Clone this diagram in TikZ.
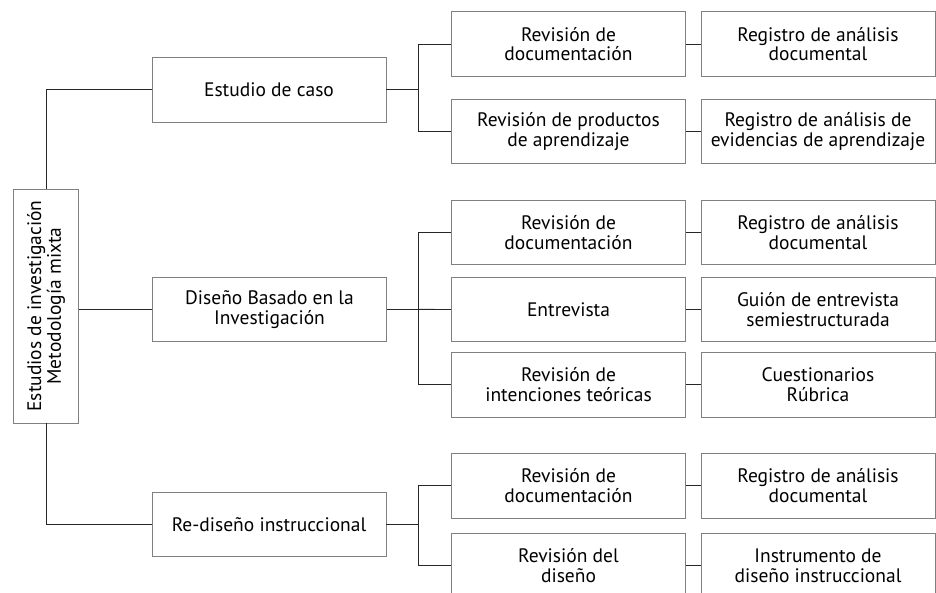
\documentclass[tikz,border=0pt]{standalone}
\usepackage{fontspec}
\setmainfont{PT Sans}
\begin{document}
\begin{tikzpicture}[x=1pt,y=-1pt,
  box/.style={draw=black!50, line width=0.9pt, minimum width=234pt, minimum height=64.5pt,
    align=center, inner sep=0pt, font=\fontsize{19.5}{19.6}\selectfont},
  conn/.style={draw=black!85, line width=0.9pt}]
\useasboundingbox (0,0) rectangle (936,593);
% root
\node[box, minimum width=234pt, minimum height=65pt, rotate=90] (root) at (46,306)
  {Estudios de investigación\\Metodología mixta};
% level 1
\node[box] (est) at (269,89.8) {Estudio de caso};
\node[box] (dis) at (269.5,309.4) {Diseño Basado en la\\Investigación};
\node[box] (red) at (269,524.3) {Re-diseño instruccional};
% level 2
\node[box] (a1) at (568.5,44) {Revisión de\\documentación};
\node[box] (a2) at (568.5,131.5) {Revisión de productos\\de aprendizaje};
\node[box] (a3) at (568.5,232.5) {Revisión de\\documentación};
\node[box] (a4) at (568.5,309.5) {Entrevista};
\node[box] (a5) at (568.5,384.7) {Revisión de\\intenciones teóricas};
\node[box] (a6) at (568.5,485.8) {Revisión de\\documentación};
\node[box] (a7) at (568.5,565.7) {Revisión del\\diseño};
% level 3
\node[box] (b1) at (818,44) {Registro de análisis\\documental};
\node[box] (b2) at (818,131.5) {Registro de análisis de\\evidencias de aprendizaje};
\node[box] (b3) at (818,232.5) {Registro de análisis\\documental};
\node[box] (b4) at (818,309.5) {Guión de entrevista\\semiestructurada};
\node[box] (b5) at (818,384.7) {Cuestionarios\\Rúbrica};
\node[box] (b6) at (818,485.8) {Registro de análisis\\documental};
\node[box] (b7) at (818,565.7) {Instrumento de\\diseño instruccional};
% junctions
\coordinate (j1) at (418,89.8);
\coordinate (j2) at (418,309.4);
\coordinate (j3) at (418,524.3);
% root connectors
\draw[conn] (root.east) |- (est.west);
\draw[conn] (root.south |- dis.west) -- (dis.west);
\draw[conn] (root.west) |- (red.west);
% level1 -> level2
\draw[conn] (est.east) -- (j1);
\draw[conn] (a1.west) -| (j1);
\draw[conn] (a2.west) -| (j1);
\draw[conn] (dis.east) -- (j2);
\draw[conn] (a3.west) -| (j2);
\draw[conn] (a4.west) -- (j2);
\draw[conn] (a5.west) -| (j2);
\draw[conn] (red.east) -- (j3);
\draw[conn] (a6.west) -| (j3);
\draw[conn] (a7.west) -| (j3);
% level2 -> level3
\foreach \i in {1,...,7} { \draw[conn] (a\i.east) -- (b\i.west); }
\end{tikzpicture}
\end{document}
